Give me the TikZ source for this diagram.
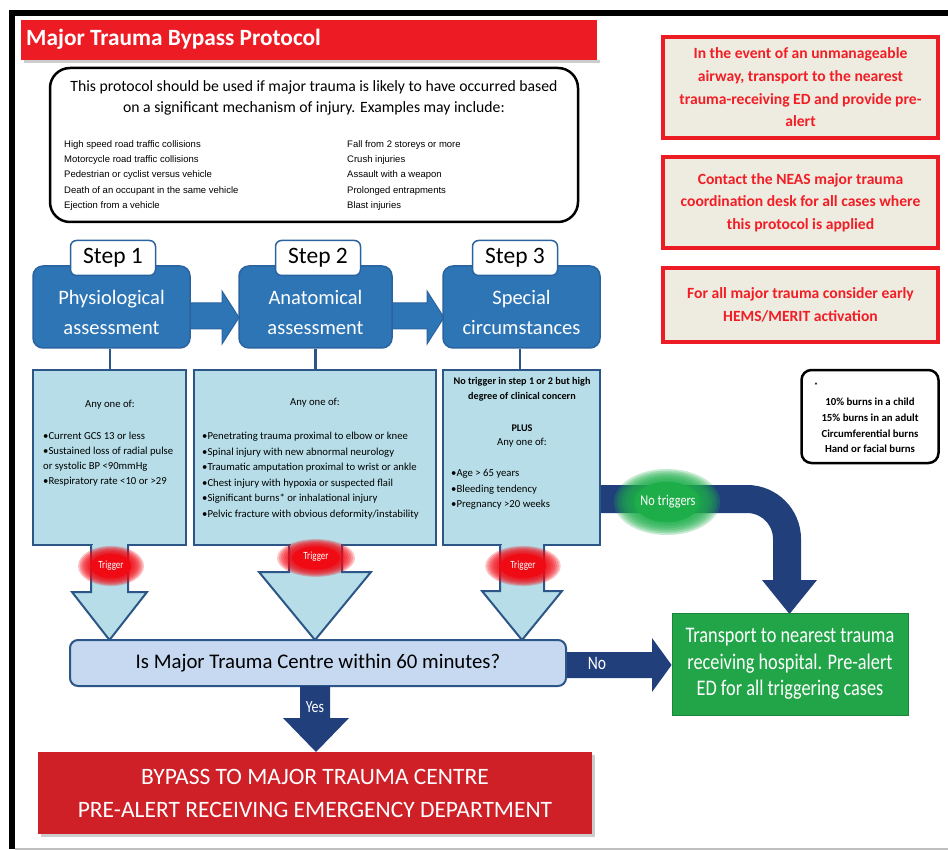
\documentclass[tikz,border=0pt]{standalone}
\usepackage{fontspec}
\setmainfont{Carlito}
\newfontfamily\arialf{Liberation Sans}
\newfontfamily\condf[FakeStretch=0.82]{Carlito}
\usetikzlibrary{calc}
\definecolor{titlered}{HTML}{ED1C24}
\definecolor{notered}{HTML}{F21D25}
\definecolor{boxbeige}{HTML}{EEECE1}
\definecolor{stepblue}{HTML}{2E75B6}
\definecolor{stepborder}{HTML}{2A63A0}
\definecolor{lblue}{HTML}{B7DEE8}
\definecolor{lborder}{HTML}{2C5687}
\definecolor{qblue}{HTML}{C6D9F1}
\definecolor{dblue}{HTML}{213F7B}
\definecolor{tgreen}{HTML}{22A548}
\definecolor{bred}{HTML}{CF1F27}
\definecolor{glowgreen}{HTML}{1DAE4A}
\definecolor{glowred}{HTML}{F00A14}
\newcommand{\fs}[2]{\fontsize{#1}{#2}\selectfont}
\newcommand{\glowat}[5]{%
  \foreach \k in {0,...,7}{%
    \pgfmathsetmacro{\ff}{1.18-0.06*\k}%
    \fill[#5, opacity=0.25] (#1,#2) ellipse [x radius={\ff*#3pt}, y radius={\ff*#4pt}];
  }%
  \fill[#5] (#1,#2) ellipse [x radius={0.72*#3pt}, y radius={0.72*#4pt}];
}
\begin{document}
\begin{tikzpicture}[x=1pt,y=-1pt,
  notebox/.style={draw=titlered, line width=3.5, fill=boxbeige, minimum width=275, inner sep=0, text=notered, font=\bfseries\fs{15.6}{22.7}, align=center},
  stepbox/.style={fill=stepblue, draw=stepborder, line width=1.5, rounded corners=10, minimum height=82, inner sep=0},
  steptitle/.style={text=white, font=\fs{20.5}{30}, align=center, inner sep=0},
  steptab/.style={fill=white, draw=stepborder, line width=1.5, rounded corners=6, minimum width=85, minimum height=35, inner sep=0, font=\fs{23.5}{24}},
  critbox/.style={fill=lblue, draw=lborder, line width=2, minimum height=175, inner sep=0},
  crittext/.style={font=\fs{10.7}{15.5}, inner sep=0, text=black},
  critbold/.style={font=\bfseries\fs{10.2}{15}, inner sep=0, text=black},
  extext/.style={font=\arialf\fs{9.5}{12}, inner sep=0},
  blockdown/.style={fill=lblue, draw=lborder, line width=2, line join=miter},
  darrow/.style={fill=dblue},
  stepconn/.style={draw=lborder, line width=2.5}
]
\useasboundingbox (0,0) rectangle (948,850);
% frame
\draw[black, line width=6, line join=miter] (11.5,849) -- (11.5,13) -- (948,13);
\draw[black!25, line width=2] (15,849) -- (948,849);

% title
\fill[black!20] (24,60) rectangle (600,63);
\node[fill=titlered, minimum width=576, minimum height=40, inner sep=0, anchor=north west] (titlebar) at (21,20) {};
\node[anchor=west, text=white, font=\bfseries\fs{23.3}{28}, inner sep=0] (titletext) at (26,39) {Major Trauma Bypass Protocol};

% protocol box
\node[draw=black, line width=2.5, rounded corners=20, minimum width=528, minimum height=154, inner sep=0] (proto) at (314,145) {};
\node[align=center, font=\fs{15.7}{21}, inner sep=0] (protohead) at (314,98) {This protocol should be used if major trauma is likely to have occurred based\\on a significant mechanism of injury. Examples may include:};
\foreach \t [count=\i] in {High speed road traffic collisions,Motorcycle road traffic collisions,Pedestrian or cyclist versus vehicle,Death of an occupant in the same vehicle,Ejection from a vehicle}
  \node[extext, anchor=west] (exl\i) at (64,{145+15.2*(\i-1)}) {\t};
\foreach \t [count=\i] in {Fall from 2 storeys or more,Crush injuries,Assault with a weapon,Prolonged entrapments,Blast injuries}
  \node[extext, anchor=west] (exr\i) at (347,{145+15.2*(\i-1)}) {\t};

% note boxes
\node[notebox, minimum height=101] (note1) at (800.5,87.5) {In the event of an unmanageable\\airway, transport to the nearest\\trauma-receiving ED and provide pre-\\alert};
\node[notebox, minimum height=91] (note2) at (800.5,202.5) {Contact the NEAS major trauma\\coordination desk for all cases where\\this protocol is applied};
\node[notebox, minimum height=74] (note3) at (800.5,305) {For all major trauma consider early\\HEMS/MERIT activation};

% step arrows
\path[fill=stepblue, draw=stepborder, line width=1] (186,303) -- (222,303) -- (222,291) -- (239,317.5) -- (222,344) -- (222,329) -- (186,329) -- cycle;
\path[fill=stepblue, draw=stepborder, line width=1] (388,303) -- (427,303) -- (427,291) -- (444,317.5) -- (427,344) -- (427,329) -- (388,329) -- cycle;

% step boxes
\node[stepbox, minimum width=157] (s1) at (111.5,307) {};
\node[stepbox, minimum width=153] (s2) at (315.5,307) {};
\node[stepbox, minimum width=157] (s3) at (521.5,307) {};
\node[steptitle] (s1t) at (111.5,312) {Physiological\\assessment};
\node[steptitle] (s2t) at (315.5,312) {Anatomical\\assessment};
\node[steptitle] (s3t) at (521.5,312) {Special\\circumstances};
\node[steptab] (t1) at (113,258) {Step 1};
\node[steptab] (t2) at (318,258) {Step 2};
\node[steptab] (t3) at (515,258) {Step 3};

% criteria boxes
\node[critbox, minimum width=153] (ca) at (109.5,457.5) {};
\node[critbox, minimum width=242] (cb) at (315,457.5) {};
\node[critbox, minimum width=157] (cc) at (521.5,457.5) {};
\draw[stepconn] (s1.south -| 110,0) -- (ca.north -| 110,0);
\draw[stepconn] (s2.south) -- (s2.south |- cb.north);
\draw[stepconn] (s3.south -| 520,0) -- (cc.north -| 520,0);

% box A text
\node[crittext] (caany) at (110,405) {Any one of:};
\foreach \t [count=\i] in {•Current GCS 13 or less,•Sustained loss of radial pulse,or systolic BP <90mmHg,•Respiratory rate <10 or >29}
  \node[crittext, anchor=west] (ca\i) at (43,{436+15.3*(\i-1)}) {\t};
% box B text
\node[crittext] (cbany) at (315,403) {Any one of:};
\foreach \t [count=\i] in {•Penetrating trauma proximal to elbow or knee,•Spinal injury with new abnormal neurology,•Traumatic amputation proximal to wrist or ankle,•Chest injury with hypoxia or suspected flail,•Significant burns* or inhalational injury,•Pelvic fracture with obvious deformity/instability}
  \node[crittext, anchor=west] (cb\i) at (202,{437+15.5*(\i-1)}) {\t};
% box C text
\node[critbold, align=center] (cchead) at (522,389) {No trigger in step 1 or 2 but high\\degree of clinical concern};
\node[critbold] (ccplus) at (522,428) {PLUS};
\node[crittext] (ccany) at (522,443) {Any one of:};
\foreach \t [count=\i] in {•Age > 65 years,•Bleeding tendency,•Pregnancy >20 weeks}
  \node[crittext, anchor=west] (cc\i) at (451,{474+15.5*(\i-1)}) {\t};

% burns note
\node[draw=black, line width=2.5, rounded corners=10, minimum width=137, minimum height=93, inner sep=0] (burns) at (870,416.5) {};
\node[font=\bfseries\fs{8}{8}, inner sep=0] (burnstar) at (816,386) {*};
\node[font=\bfseries\fs{10.8}{15.6}, align=center, inner sep=0] (burnstext) at (870,425.5) {10\% burns in a child\\15\% burns in an adult\\Circumferential burns\\Hand or facial burns};

% down block arrows
\path[blockdown] (91,545) -- (91,592) -- (72,592) -- (109.5,640) -- (147,592) -- (128,592) -- (128,545);
\fill[lblue] (92.5,541) rectangle (126.5,548);
\path[blockdown] (289,545) -- (289,572) -- (259,572) -- (315,640) -- (371,572) -- (342,572) -- (342,545);
\fill[lblue] (290.5,541) rectangle (340.5,548);
\path[blockdown] (500,545) -- (500,591) -- (482,591) -- (522,640) -- (562,591) -- (544,591) -- (544,545);
\fill[lblue] (501.5,541) rectangle (542.5,548);

% trigger glows
\glowat{111}{566}{28}{17}{glowred}
\glowat{316}{558}{33}{16}{glowred}
\glowat{523}{566}{32}{17}{glowred}
\node[text=white, font=\condf\fs{11}{11}, inner sep=0] (trA) at (111,566) {Trigger};
\node[text=white, font=\condf\fs{11}{11}, inner sep=0] (trB) at (316,557) {Trigger};
\node[text=white, font=\condf\fs{11}{11}, inner sep=0] (trC) at (523,566) {Trigger};

% no triggers band
\draw[dblue, line width=28, rounded corners=40] (cc.east |- 0,499) -- (787,499) -- (787,582);
\fill[dblue] (762,580) -- (817,580) -- (789.5,614) -- cycle;
\glowat{667}{502}{45}{28}{glowgreen}
\node[text=white, font=\condf\fs{15}{15}, inner sep=0] (notrig) at (668,502) {No triggers};

% question
\node[fill=qblue, draw=lborder, line width=2, rounded corners=8, minimum width=496, minimum height=46, inner sep=0, font=\fs{20.8}{22}] (q) at (318,663) {Is Major Trauma Centre within 60 minutes?};

% green outcome
\node[fill=tgreen, draw=tgreen!80!black, line width=0.8, minimum width=236, minimum height=102, inner sep=0, text=white, font=\condf\fs{22.3}{26.5}, align=center] (green) at (790,664) {Transport to nearest trauma\\receiving hospital. Pre-alert\\ED for all triggering cases};

% No arrow
\fill[darrow] (q.east |- 0,652) -- (652,652) -- (652,638) -- (green.west |- 0,665) -- (652,692) -- (652,678) -- (q.east |- 0,678) -- cycle;
\node[text=white, font=\condf\fs{19}{19}, inner sep=0] (nolab) at (597,663) {No};

% bypass box
\fill[black!20] (41,755) rectangle (595,837);
\node[fill=bred, minimum width=554, minimum height=82, inner sep=0, text=white, font=\fs{23.5}{33}, align=center] (bypass) at (315,793) {BYPASS TO MAJOR TRAUMA CENTRE\\PRE-ALERT RECEIVING EMERGENCY DEPARTMENT};

% Yes arrow
\fill[darrow] (300,686) -- (300,718) -- (283,718) -- (316,752) -- (349,718) -- (330,718) -- (330,686) -- cycle;
\node[text=white, font=\condf\fs{17}{17}, inner sep=0] (yeslab) at (315,707) {Yes};
\end{tikzpicture}
\end{document}
